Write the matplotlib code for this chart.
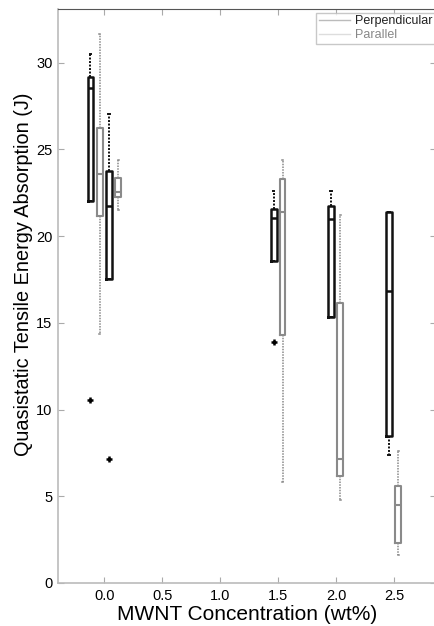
import matplotlib
matplotlib.use("Agg")
import matplotlib.pyplot as plt
from matplotlib.lines import Line2D

plt.rcParams['font.family'] = ['Liberation Sans', 'DejaVu Sans']

# Data
# Perpendicular boxes
perp_pos = [-0.12, 0.04, 1.46, 1.954, 2.454]
perp_whislo = [22.0, 17.54, 18.54, 15.31, 7.39]
perp_q1 = [22.0, 17.54, 18.54, 15.31, 8.48]
perp_med = [28.54, 21.75, 21.04, 21.0, 16.81]
perp_q3 = [29.16, 23.73, 21.58, 21.75, 21.42]
perp_whishi = [30.5, 27.06, 22.58, 22.62, 21.42]
perp_fliers = [[10.56], [7.14], [13.92], [], []]

# Parallel boxes
para_pos = [-0.04, 0.12, 1.537, 2.034, 2.534]
para_whislo = [14.35, 21.5, 5.85, 4.79, 1.62]
para_q1 = [21.18, 22.27, 14.31, 6.17, 2.29]
para_med = [23.58, 22.52, 21.37, 7.16, 4.5]
para_q3 = [26.24, 23.33, 23.29, 16.14, 5.6]
para_whishi = [31.66, 24.4, 24.4, 21.23, 7.62]
para_fliers = [[], [], [], [], []]

xticks = [0.0, 0.5, 1.0, 1.5, 2.0, 2.5]
xticklabels = ["0.0", "0.5", "1.0", "1.5", "2.0", "2.5"]
yticks = [0, 5, 10, 15, 20, 25, 30]

fig = plt.figure(figsize=(4.35, 6.26), dpi=100)
ax = fig.add_axes([0.1333, 0.0687, 0.869, 0.917])


def stats(lo, q1, med, q3, hi, fl):
    return [dict(whislo=a, q1=b, med=c, q3=d, whishi=e, fliers=f)
            for a, b, c, d, e, f in zip(lo, q1, med, q3, hi, fl)]


def draw(st, pos, color, lw, wlw):
    ax.bxp(st, positions=pos, widths=0.05, showfliers=True, showcaps=True,
           manage_ticks=False,
           boxprops=dict(color=color, linewidth=lw),
           medianprops=dict(color=color, linewidth=lw),
           whiskerprops=dict(color=color, linewidth=wlw, linestyle=(0, (1, 0.8))),
           capprops=dict(color=color, linewidth=wlw),
           flierprops=dict(marker='+', markeredgecolor='black',
                           markersize=5, markeredgewidth=1.8),
           capwidths=0.01)


draw(stats(perp_whislo, perp_q1, perp_med, perp_q3, perp_whishi, perp_fliers),
     perp_pos, '#111111', 1.8, 1.4)
draw(stats(para_whislo, para_q1, para_med, para_q3, para_whishi, para_fliers),
     para_pos, '#8a8a8a', 1.5, 1.1)

ax.set_xlim(-0.4, 2.86)
ax.set_ylim(0, 33.1)
ax.set_xticks(xticks)
ax.set_xticklabels(xticklabels)
ax.set_yticks(yticks)
ax.tick_params(direction='in', length=4, color='#aaaaaa', labelsize=10.5,
               top=True, right=True, pad=4)
for s in ['left', 'bottom']:
    ax.spines[s].set_color('#bbbbbb')
    ax.spines[s].set_linewidth(1.2)
ax.spines['top'].set_color('#555555')
ax.spines['right'].set_color('#bbbbbb')

ax.set_xlabel("MWNT Concentration (wt%)", fontsize=15, labelpad=2)
ax.set_ylabel("Quasistatic Tensile Energy Absorption (J)", fontsize=14.3)
ax.yaxis.set_label_coords(-0.067, 0.537)

handles = [Line2D([], [], color='#bbbbbb', lw=1),
           Line2D([], [], color='#dddddd', lw=1)]
leg = ax.legend(handles, ["Perpendicular", "Parallel"], loc='upper right',
                bbox_to_anchor=(0.998, 0.993),
                fontsize=9, frameon=True, fancybox=False, borderpad=0.2,
                handlelength=2.5, handletextpad=0.4, labelspacing=0.15,
                borderaxespad=0.0)
leg.get_frame().set_edgecolor('#bbbbbb')
leg.get_frame().set_linewidth(1.0)
leg.get_texts()[0].set_color('#222222')
leg.get_texts()[1].set_color('#888888')

fig.savefig("out.png", dpi=100)
